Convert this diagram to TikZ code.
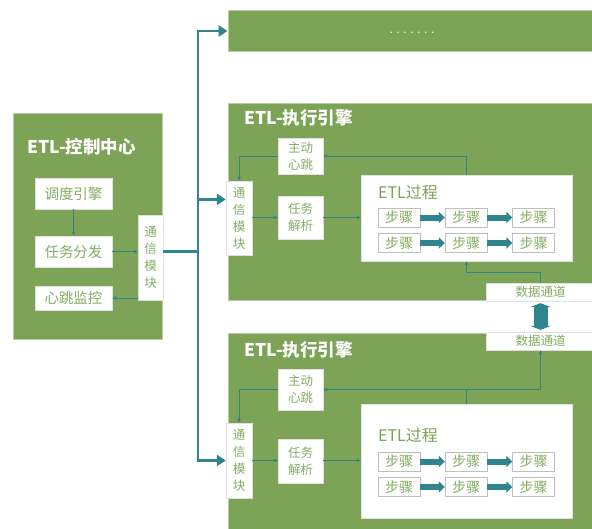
\documentclass[tikz,border=0pt]{standalone}
\usepackage{fontspec}
\setmainfont{Noto Sans CJK SC}
\usetikzlibrary{arrows.meta}
\usetikzlibrary{calc}

\definecolor{etlgreen}{RGB}{124,163,86}
\definecolor{etlteal}{RGB}{47,132,142}
\definecolor{txtgreen}{RGB}{132,174,98}

\begin{document}
\begin{tikzpicture}[x=1pt,y=-1pt,
        panel/.style={fill=etlgreen,draw=etlgreen!55!white,line width=0.8pt,inner sep=0pt},
        box/.style={fill=white,draw=black!12,text=txtgreen,inner sep=0pt,font=\fontsize{14.5}{16}\selectfont},
        tallbox/.style={box,align=center,font=\fontsize{12.5}{17}\selectfont},
        stepbox/.style={box,draw=black!25,minimum width=42pt,minimum height=19pt,font=\fontsize{14}{15}\selectfont},
        paneltitle/.style={anchor=west,text=white,inner sep=0pt,font=\bfseries\fontsize{17.5}{19}\selectfont},
        proctitle/.style={anchor=west,text=etlgreen,inner sep=0pt,font=\fontsize{16}{18}\selectfont},
        flow/.style={draw=etlteal,line width=0.7pt,-{Latex[length=4pt,width=4pt]}},
        busline/.style={draw=etlteal,line width=2.6pt},
        busarrow/.style={busline,-{Triangle[length=9pt,width=11pt]}},
        steparrow/.style={draw=etlteal,line width=6pt,-{Triangle[length=6pt,width=11pt]}}]
    \useasboundingbox (0,0) rectangle (592,528);

    % control centre
    \node[panel,minimum width=149pt,minimum height=226pt] (ctrl) at (87.5,226) {};
    \node[paneltitle] (ctrltitle) at (27,147) {ETL-控制中心};
    \node[box,minimum width=77pt,minimum height=31pt] (sched) at (73.5,193.5) {调度引擎};
    \node[box,minimum width=77pt,minimum height=31pt] (dispatch) at (73.5,251.5) {任务分发};
    \node[box,minimum width=77pt,minimum height=24pt] (hbmon) at (73.5,298) {心跳监控};
    \node[tallbox,minimum width=25pt,minimum height=85pt] (comm0) at (150.5,257.5) {通\\信\\模\\块};

    \draw[flow] (sched) -- (dispatch);
    \draw[flow] (dispatch) -- (comm0.west |- dispatch);
    \draw[flow] (comm0.west |- hbmon) -- (hbmon.east);

    % top bar
    \node[panel,minimum width=366pt,minimum height=41pt] (topbar) at (411,31) {};
    \node[text=white!85!etlgreen,font=\fontsize{12}{14}\selectfont] (dots) at (412,33) {. . . . . . .};

    % engine 1
    \node[panel,minimum width=366pt,minimum height=197pt] (eng1) at (411,201.5) {};
    \node[paneltitle] (eng1title) at (244,118) {ETL-执行引擎};
    \node[tallbox,minimum width=26pt,minimum height=74pt] (comm1) at (239,218) {通\\信\\模\\块};
    \node[tallbox,minimum width=45pt,minimum height=36pt] (beat1) at (300.5,156) {主动\\心跳};
    \node[tallbox,minimum width=45pt,minimum height=43pt] (parse1) at (300.5,217.5) {任务\\解析};
    \node[box,minimum width=211pt,minimum height=86pt] (proc1) at (466.5,218) {};
    \node[proctitle] (proc1title) at (378,192) {ETL过程};
    \node[box,minimum width=109pt,minimum height=18pt,font=\fontsize{12.5}{14}\selectfont] (data1) at (540.5,292) {数据通道};

    \draw[flow] (proc1.north) |- (beat1.east);
    \draw[flow] (beat1.west) -| (comm1.north);
    \draw[flow] (comm1.east |- parse1) -- (parse1.west);
    \draw[flow] (parse1.east) -- (proc1.west |- parse1);
    \draw[flow] (data1.north) -- ++(0,-10) -| (proc1.south);

    % engine 2
    \node[panel,minimum width=366pt,minimum height=197pt] (eng2) at (411,431.5) {};
    \node[paneltitle] (eng2title) at (244,350) {ETL-执行引擎};
    \node[tallbox,minimum width=26pt,minimum height=75pt] (comm2) at (239,460.5) {通\\信\\模\\块};
    \node[tallbox,minimum width=45pt,minimum height=41pt] (beat2) at (300.5,389.5) {主动\\心跳};
    \node[tallbox,minimum width=45pt,minimum height=44pt] (parse2) at (300.5,461) {任务\\解析};
    \node[box,minimum width=211pt,minimum height=114pt] (proc2) at (466.5,461) {};
    \node[proctitle] (proc2title) at (378,435) {ETL过程};
    \node[box,minimum width=109pt,minimum height=18pt,font=\fontsize{12.5}{14}\selectfont] (data2) at (540.5,341) {数据通道};

    \draw[flow] (proc2.north) |- (beat2.east);
    \draw[flow] (proc2.north |- beat2.east) -| (data2.south);
    \draw[flow] (beat2.west) -| (comm2.north);
    \draw[flow] (comm2.east) -- (parse2.west |- comm2.east);
    \draw[flow] (parse2.east |- comm2.east) -- (proc2.west |- comm2.east);

    % steps
    \foreach \r/\y in {a/217.5,b/243,c/461.5,d/487}{
        \foreach \c/\x in {1/399,2/466,3/533.5}
            \node[stepbox] (st\r\c) at (\x,\y) {步骤};
        \draw[steparrow] (st\r1) -- (st\r2);
        \draw[steparrow] (st\r2) -- (st\r3);
    }

    % data channel between engines
    \draw[draw=etlteal,line width=14pt,shorten <=2pt,shorten >=2pt,
        {Triangle[length=4pt,width=21pt]}-{Triangle[length=4pt,width=21pt]}] (data1.south) -- (data2.north);

    % bus
    \coordinate (hub) at (198,251.5);
    \coordinate (c1in) at ($(comm1.north west)!0.25!(comm1.south west)$);
    \draw[busline] (comm0.east |- hub) -- (hub);
    \draw[busarrow] (hub) |- (topbar.west);
    \draw[busarrow] (hub) |- (comm2.west);
    \draw[busarrow] (hub |- c1in) -- (c1in);
\end{tikzpicture}
\end{document}
